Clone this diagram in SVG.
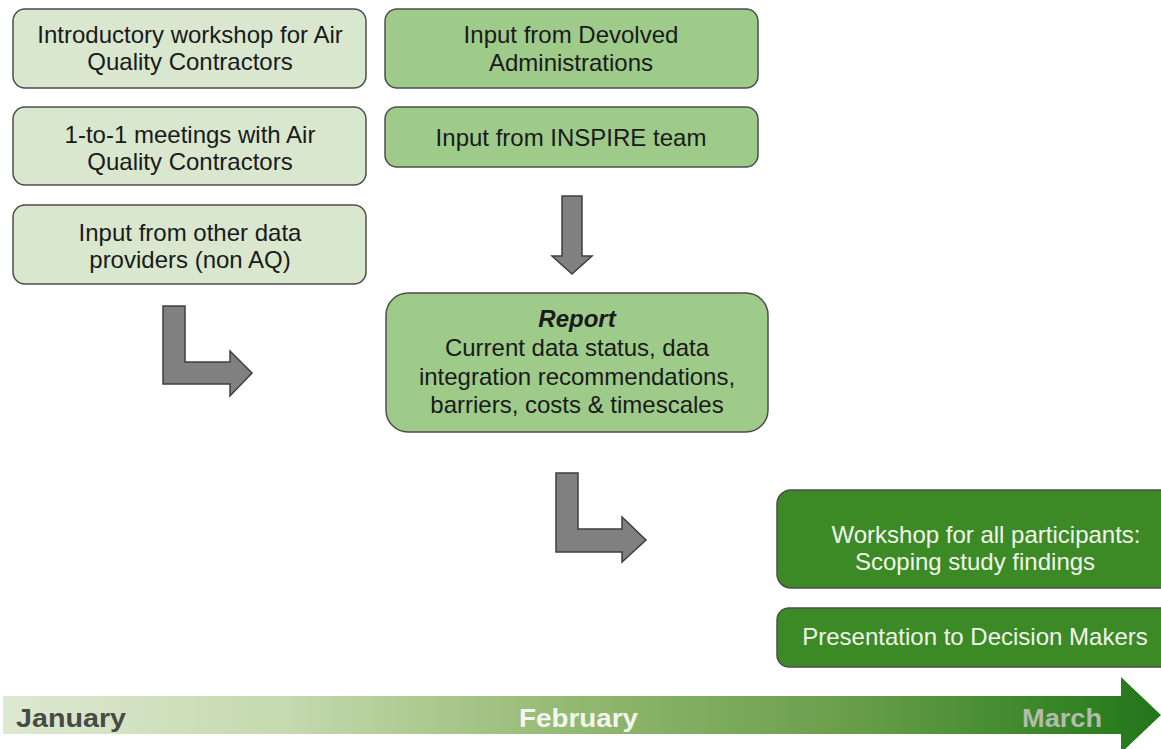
<svg xmlns="http://www.w3.org/2000/svg" width="1161" height="749" viewBox="0 0 1161 749">
  <defs>
    <linearGradient id="timeline-fill" x1="0" y1="0" x2="1161" y2="0" gradientUnits="userSpaceOnUse">
      <stop offset="0" stop-color="#dde9d1"/>
      <stop offset="0.25" stop-color="#c4d9ae"/>
      <stop offset="0.5" stop-color="#92b86f"/>
      <stop offset="0.75" stop-color="#659c47"/>
      <stop offset="0.9" stop-color="#3a8729"/>
      <stop offset="1" stop-color="#22751a"/>
    </linearGradient>
    <style>
      .box { stroke: #4d4d4d; stroke-width: 1.5; }
      .light { fill: #d9e7cf; }
      .mid { fill: #9ecb8a; }
      .dark { fill: #3b8a26; }
      .txt { font-family: "Liberation Sans", Arial, sans-serif; font-size: 24px; fill: #1a1a1a; text-anchor: middle; }
      .txt-w { fill: #f2f4ec; }
      .arrow { fill: #808080; stroke: #3f3f3f; stroke-width: 1.5; stroke-linejoin: miter; }
      .month { font-family: "Liberation Sans Narrow", "Liberation Sans", Arial, sans-serif; font-weight: bold; font-size: 26px; }
    </style>
  </defs>

  <!-- Left column: January activities -->
  <g id="intro-workshop">
    <rect class="box light" x="13" y="9" width="353" height="79" rx="12"/>
    <text class="txt" x="190" y="43">Introductory workshop for Air</text>
    <text class="txt" x="190" y="70">Quality Contractors</text>
  </g>
  <g id="one-to-one">
    <rect class="box light" x="13" y="107" width="353" height="78" rx="12"/>
    <text class="txt" x="190" y="143">1-to-1 meetings with Air</text>
    <text class="txt" x="190" y="170">Quality Contractors</text>
  </g>
  <g id="other-providers">
    <rect class="box light" x="13" y="205" width="353" height="79" rx="12"/>
    <text class="txt" x="190" y="241">Input from other data</text>
    <text class="txt" x="190" y="268">providers (non AQ)</text>
  </g>

  <!-- Middle column: February inputs and report -->
  <g id="devolved">
    <rect class="box mid" x="385" y="9" width="373" height="79" rx="12"/>
    <text class="txt" x="571" y="43">Input from Devolved</text>
    <text class="txt" x="571" y="71">Administrations</text>
  </g>
  <g id="inspire">
    <rect class="box mid" x="385" y="107" width="373" height="60" rx="12"/>
    <text class="txt" x="571" y="146">Input from INSPIRE team</text>
  </g>
  <g id="report">
    <rect class="box mid" x="386" y="293" width="382" height="139" rx="22"/>
    <text class="txt" x="577" y="327" font-weight="bold" font-style="italic">Report</text>
    <text class="txt" x="577" y="356">Current data status, data</text>
    <text class="txt" x="577" y="385">integration recommendations,</text>
    <text class="txt" x="577" y="413">barriers, costs &amp; timescales</text>
  </g>

  <!-- Right column: March outputs -->
  <g id="final-workshop">
    <rect class="box dark" x="777" y="490" width="396" height="98" rx="14"/>
    <text class="txt txt-w" x="986" y="543">Workshop for all participants:</text>
    <text class="txt txt-w" x="975" y="570">Scoping study findings</text>
  </g>
  <g id="decision-makers">
    <rect class="box dark" x="777" y="608" width="396" height="59" rx="12"/>
    <text class="txt txt-w" x="975" y="645">Presentation to Decision Makers</text>
  </g>

  <!-- Flow arrows -->
  <g id="connectors">
    <path class="arrow" d="M163,306 H185 V362 H230 V351 L252,373 L230,396 V384 H163 Z"/>
    <path class="arrow" d="M562,196 H582 V256 H592 L572,274 L552,256 H562 Z"/>
    <path class="arrow" d="M556,473 H578 V529 H622 V517 L646,540 L622,562 V552 H556 Z"/>
  </g>

  <!-- Timeline -->
  <g id="timeline">
    <path d="M3,696 H1121 V677 L1161,715 L1121,753 V734 H3 Z" fill="url(#timeline-fill)"/>
    <text class="month" x="16" y="727" fill="#474a45" textLength="110" lengthAdjust="spacingAndGlyphs">January</text>
    <text class="month" x="519" y="727" fill="#f3f6ee" textLength="119" lengthAdjust="spacingAndGlyphs">February</text>
    <text class="month" x="1022" y="727" fill="#b3bcab" textLength="80" lengthAdjust="spacingAndGlyphs">March</text>
  </g>
</svg>
